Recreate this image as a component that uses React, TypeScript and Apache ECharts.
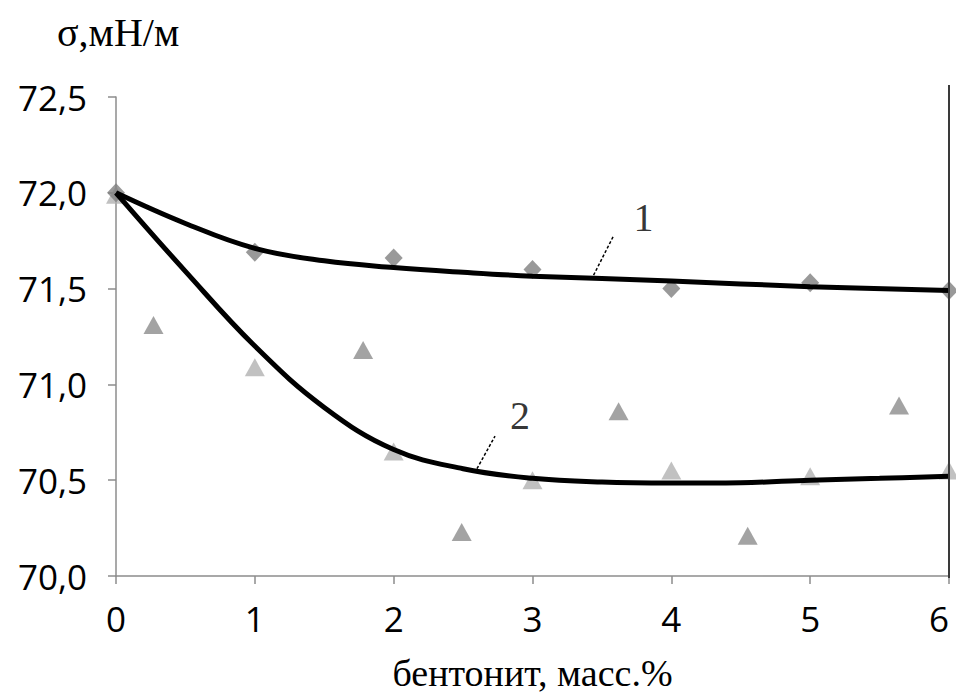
import React, { useEffect, useRef } from "react";
import * as echarts from "echarts";

// Measured points (diamonds, curve 1)
const diamondPoints: [number, number][] = [
  [0, 72.0], [1, 71.69], [2, 71.66], [3, 71.6], [4, 71.5], [5, 71.53], [6, 71.49],
];
// Triangles at integer contents (lighter)
const trianglePointsMain: [number, number][] = [
  [0, 71.99], [1, 71.09], [2, 70.65], [3, 70.5], [4, 70.55], [5, 70.52], [6, 70.55],
];
// Triangles at intermediate contents (darker)
const trianglePointsExtra: [number, number][] = [
  [0.27, 71.31], [1.78, 71.18], [2.49, 70.23], [3.62, 70.86], [4.55, 70.21], [5.64, 70.89],
];
// Trend curve 1
const curve1: [number, number][] = [
  [0, 72.0], [0.5, 71.84], [1, 71.71], [1.5, 71.645], [2, 71.61], [2.5, 71.585],
  [3, 71.565], [4, 71.54], [5, 71.51], [6, 71.49],
];
// Trend curve 2
const curve2: [number, number][] = [
  [0, 72.0], [0.5, 71.59], [1, 71.2], [1.5, 70.88], [2, 70.66], [2.5, 70.56],
  [3, 70.51], [3.5, 70.49], [4, 70.485], [4.5, 70.487], [5, 70.5], [5.5, 70.51], [6, 70.52],
];
// Curve labels and leader lines (data coords)
const curveLabels: [number, number, string][] = [
  [3.8, 71.87, "1"],
  [2.91, 70.84, "2"],
];
const leaders: [number, number, number, number][] = [
  [3.44, 71.57, 3.58, 71.77],
  [2.6, 70.56, 2.73, 70.73],
];
const xTicks = [0, 1, 2, 3, 4, 5, 6];
const yMin = 70;
const yMax = 72.5;
const yStep = 0.5;

const xTitle = "бентонит, масс.%";
const yTitle = "σ,мН/м";

export default function App() {
  const ref = useRef<HTMLDivElement>(null);
  useEffect(() => {
    if (!ref.current) return;
    const chart = echarts.init(ref.current, null, { renderer: "svg" });
    const axisColor = "#8c8c8c";
    const serif = "'Liberation Serif', 'Times New Roman', serif";
    const sans = "'Open Sans', 'Liberation Sans', sans-serif";
    chart.setOption({
      animation: false,
      backgroundColor: "#ffffff",
      grid: {
        left: 116,
        right: 7,
        top: 97,
        bottom: 117,
        containLabel: false,
        outerBoundsMode: "none",
      },
      xAxis: {
        type: "value",
        min: xTicks[0],
        max: xTicks[xTicks.length - 1],
        interval: 1,
        name: xTitle,
        nameLocation: "middle",
        nameGap: 78,
        nameTextStyle: { fontFamily: serif, fontSize: 38, color: "#000" },
        axisLine: { lineStyle: { color: axisColor, width: 1.5 } },
        axisTick: { show: true, inside: false, length: 8, lineStyle: { color: axisColor, width: 1.5 } },
        axisLabel: {
          fontFamily: sans,
          fontSize: 35,
          color: "#000",
          margin: 25,
          alignMaxLabel: "right",
        },
        splitLine: { show: false },
      },
      yAxis: {
        type: "value",
        min: yMin,
        max: yMax,
        interval: yStep,
        axisLine: { show: true, lineStyle: { color: axisColor, width: 1.5 } },
        axisTick: { show: true, inside: false, length: 8, lineStyle: { color: axisColor, width: 1.5 } },
        axisLabel: {
          fontFamily: sans,
          fontSize: 35,
          color: "#000",
          margin: 29,
          formatter: (v: number) => v.toFixed(1).replace(".", ","),
        },
        splitLine: { show: false },
      },
      graphic: [
        {
          type: "text",
          left: 57,
          top: 12,
          style: { text: yTitle, font: `40px ${serif}`, fill: "#000" },
        },
        {
          type: "line",
          shape: { x1: 949, y1: 85, x2: 949, y2: 578 },
          style: { stroke: "#3a3a3a", lineWidth: 2 },
          z: 10,
        },
      ],
      series: [
        {
          type: "scatter",
          data: trianglePointsMain,
          symbol: "triangle",
          symbolSize: [20, 18],
          itemStyle: { color: "#b2b2b2" },
          z: 2,
        },
        {
          type: "scatter",
          data: trianglePointsExtra,
          symbol: "triangle",
          symbolSize: [20, 18],
          itemStyle: { color: "#8c8c8c" },
          z: 2,
        },
        {
          type: "scatter",
          data: diamondPoints,
          symbol: "diamond",
          symbolSize: [18, 19],
          itemStyle: { color: "#7f7f7f" },
          z: 2,
        },
        {
          type: "line",
          data: curve1,
          smooth: 0.4,
          showSymbol: false,
          symbol: "none",
          lineStyle: { color: "#000", width: 5 },
          z: 3,
          markLine: {
            silent: true,
            symbol: "none",
            label: { show: false },
            lineStyle: { color: "#000", width: 1.5, type: [3, 2] },
            data: leaders.map((l) => [{ coord: [l[0], l[1]] }, { coord: [l[2], l[3]] }]),
          },
        },
        {
          type: "line",
          data: curve2,
          smooth: 0.4,
          showSymbol: false,
          symbol: "none",
          lineStyle: { color: "#000", width: 5 },
          z: 3,
        },
        {
          type: "scatter",
          data: curveLabels.map((c) => ({ value: [c[0], c[1]], name: c[2] })),
          symbolSize: 0,
          silent: true,
          label: {
            show: true,
            position: "inside",
            formatter: (p: any) => p.name,
            fontFamily: serif,
            fontSize: 40,
            color: "#000",
          },
          z: 4,
        },
      ],
    });
    return () => chart.dispose();
  }, []);
  return (
    <div
      ref={ref}
      style={{ position: "fixed", left: 0, top: 0, width: 956, height: 693 }}
    />
  );
}
